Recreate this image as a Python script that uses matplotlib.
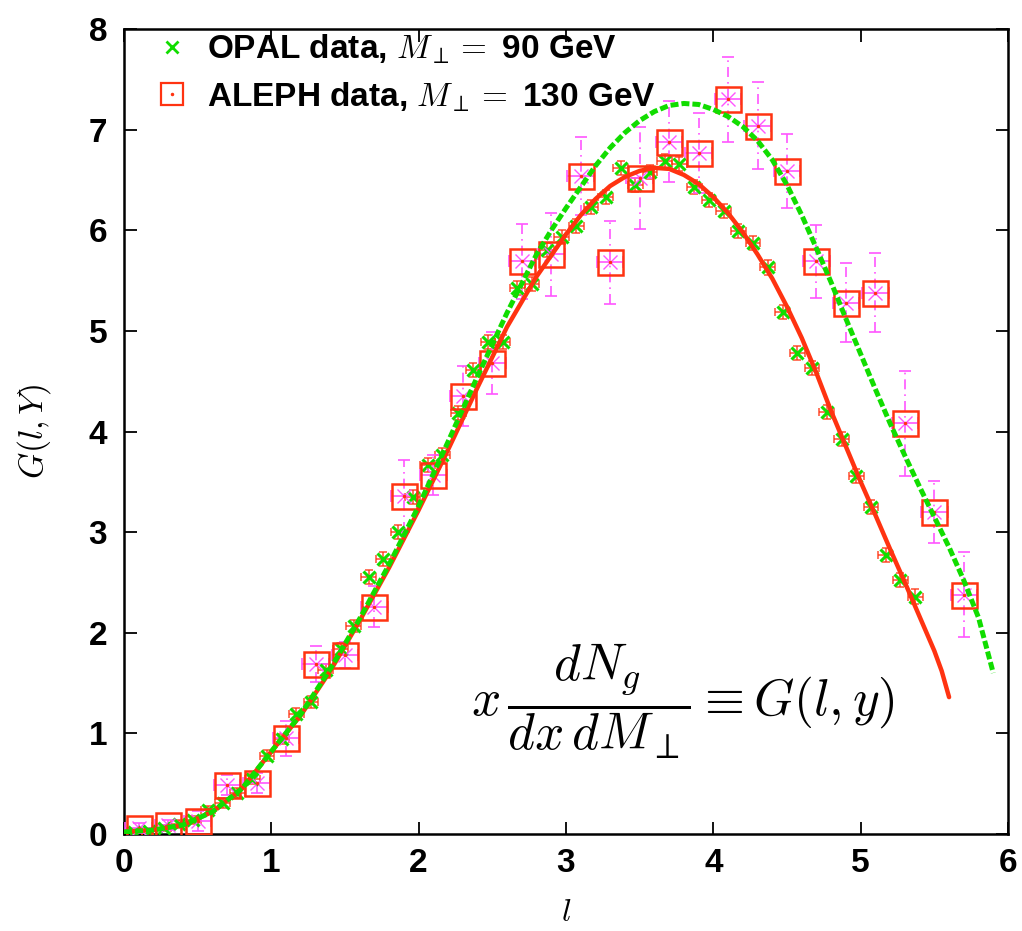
import matplotlib
matplotlib.use('Agg')
import matplotlib.pyplot as plt
from matplotlib.lines import Line2D
from matplotlib.legend_handler import HandlerTuple

plt.rcParams['font.family'] = ['Liberation Sans', 'DejaVu Sans']
plt.rcParams['mathtext.fontset'] = 'cm'

# ---------------- data ----------------
opal_l = [0.07, 0.17, 0.27, 0.37, 0.47, 0.57, 0.67, 0.77, 0.87, 0.97,
          1.07, 1.17, 1.27, 1.37, 1.47, 1.56, 1.66, 1.76, 1.86, 1.96,
          2.06, 2.16, 2.27, 2.37, 2.47, 2.57, 2.67, 2.77, 2.87, 2.97,
          3.07, 3.17, 3.27, 3.37, 3.47, 3.57, 3.67, 3.77, 3.87, 3.97,
          4.07, 4.17, 4.27, 4.37, 4.47, 4.57, 4.67, 4.77, 4.87, 4.97,
          5.07, 5.17, 5.27, 5.37]
opal_G = [0.02, 0.03, 0.06, 0.10, 0.14, 0.24, 0.31, 0.41, 0.55, 0.78,
          0.94, 1.19, 1.31, 1.63, 1.84, 2.07, 2.55, 2.73, 3.00, 3.35,
          3.67, 3.77, 4.18, 4.61, 4.89, 4.89, 5.43, 5.47, 5.80, 5.93,
          6.04, 6.23, 6.33, 6.62, 6.45, 6.58, 6.69, 6.66, 6.43, 6.30,
          6.19, 5.99, 5.87, 5.63, 5.19, 4.78, 4.63, 4.19, 3.93, 3.56,
          3.25, 2.77, 2.52, 2.36]
opal_dl = [0.05] * 54
opal_dG = [0.03, 0.03, 0.03, 0.04, 0.04, 0.04, 0.05, 0.05, 0.05, 0.05,
           0.05, 0.06, 0.06, 0.06, 0.06, 0.06, 0.07, 0.07, 0.07, 0.07,
           0.07, 0.07, 0.07, 0.07, 0.07, 0.07, 0.07, 0.07, 0.07, 0.07,
           0.07, 0.07, 0.07, 0.07, 0.07, 0.07, 0.07, 0.07, 0.07, 0.07,
           0.07, 0.07, 0.07, 0.07, 0.07, 0.07, 0.07, 0.07, 0.07, 0.07,
           0.07, 0.07, 0.07, 0.07]

aleph_l = [0.1, 0.3, 0.5, 0.7, 0.9, 1.1, 1.3, 1.5, 1.7, 1.9,
           2.1, 2.3, 2.5, 2.7, 2.9, 3.1, 3.3, 3.5, 3.7, 3.9,
           4.1, 4.3, 4.5, 4.7, 4.9, 5.1, 5.3, 5.5, 5.7]
aleph_G = [0.06, 0.09, 0.13, 0.49, 0.51, 0.95, 1.69, 1.78, 2.26, 3.36,
           3.57, 4.35, 4.68, 5.69, 5.76, 6.54, 5.68, 6.52, 6.88, 6.77,
           7.30, 7.04, 6.59, 5.69, 5.28, 5.38, 4.08, 3.20, 2.38]
aleph_dl = [0.09] * 29
aleph_dG = [0.05, 0.05, 0.10, 0.10, 0.10, 0.17, 0.18, 0.13, 0.20, 0.36,
            0.20, 0.30, 0.31, 0.37, 0.41, 0.39, 0.41, 0.51, 0.40, 0.40,
            0.42, 0.43, 0.37, 0.36, 0.39, 0.39, 0.52, 0.31, 0.42]

# theory curves
curve90_l = [0.0, 0.2, 0.4, 0.6, 0.8, 1.0, 1.2, 1.4, 1.6, 1.8, 2.0, 2.2,
             2.4, 2.6, 2.8, 3.0, 3.1, 3.2, 3.3, 3.4, 3.5, 3.6, 3.7, 3.8,
             3.9, 4.0, 4.1, 4.2, 4.3, 4.4, 4.5, 4.6, 4.7, 4.8, 4.9, 5.0,
             5.1, 5.2, 5.3, 5.4, 5.5, 5.55, 5.6]
curve90_G = [0.02, 0.04, 0.09, 0.22, 0.45, 0.82, 1.18, 1.62, 2.12, 2.65,
             3.22, 3.82, 4.44, 5.04, 5.54, 5.96, 6.15, 6.31, 6.44, 6.53,
             6.59, 6.62, 6.61, 6.55, 6.46, 6.33, 6.17, 5.98, 5.76, 5.52,
             5.24, 4.93, 4.58, 4.20, 3.85, 3.50, 3.17, 2.83, 2.50, 2.16,
             1.82, 1.62, 1.36]
curve130_l = [0.0, 0.2, 0.4, 0.6, 0.8, 1.0, 1.2, 1.4, 1.6, 1.8, 2.0, 2.2,
              2.4, 2.6, 2.8, 2.9, 3.0, 3.1, 3.2, 3.3, 3.4, 3.5, 3.6, 3.7,
              3.8, 3.9, 4.0, 4.1, 4.2, 4.3, 4.4, 4.5, 4.6, 4.7, 4.8, 4.9,
              5.0, 5.1, 5.2, 5.3, 5.4, 5.5, 5.6, 5.7, 5.8, 5.9]
curve130_G = [0.02, 0.04, 0.09, 0.22, 0.45, 0.82, 1.19, 1.64, 2.14, 2.68,
              3.26, 3.90, 4.55, 5.18, 5.76, 6.00, 6.22, 6.43, 6.64, 6.82,
              6.97, 7.09, 7.18, 7.24, 7.26, 7.25, 7.20, 7.13, 7.03, 6.89,
              6.70, 6.45, 6.15, 5.82, 5.48, 5.12, 4.77, 4.42, 4.08, 3.76,
              3.45, 3.15, 2.85, 2.52, 2.15, 1.60]

RED = '#ff3311'
GREEN = '#11dd00'
MAG = '#ff55ff'

# ---------------- figure ----------------
fig = plt.figure(figsize=(10.22, 9.31), dpi=100)
ax = fig.add_axes([124 / 1022, 1 - 834 / 931, 884 / 1022, 805 / 931])

# OPAL data: red error bars, green crosses
ax.errorbar(opal_l, opal_G, xerr=opal_dl, yerr=opal_dG, fmt='none',
            ecolor=RED, elinewidth=1.2, capsize=3, capthick=1.2, alpha=0.8,
            zorder=3)
ax.plot(opal_l, opal_G, linestyle='none', marker='x', color=GREEN,
        markersize=8, markeredgewidth=2.2, zorder=4)

# ALEPH data: magenta error bars and crosses, red open squares with dot
eb = ax.errorbar(aleph_l, aleph_G, xerr=aleph_dl, yerr=aleph_dG, fmt='none',
                 ecolor=MAG, elinewidth=1.2, capsize=4, capthick=1.2,
                 zorder=3)
eb[2][1].set_linestyle((0, (6, 3, 1, 3)))
ax.plot(aleph_l, aleph_G, linestyle='none', marker='x', color=MAG,
        markersize=10, markeredgewidth=1.0, zorder=4)
ax.plot(aleph_l, aleph_G, linestyle='none', marker='s', markersize=18,
        markerfacecolor='none', markeredgecolor=RED, markeredgewidth=1.8,
        zorder=5)
ax.plot(aleph_l, aleph_G, linestyle='none', marker='.', markersize=3,
        color=RED, zorder=5)

# theory curves
ax.plot(curve90_l, curve90_G, color=RED, linewidth=3.2, zorder=6,
        solid_capstyle='round', solid_joinstyle='round')
ax.plot(curve130_l, curve130_G, color=GREEN, linewidth=3.6, zorder=7,
        dashes=(1.6, 0.6))

ax.set_xlim(0, 6)
ax.set_ylim(0, 8)
ax.set_xticks([0, 1, 2, 3, 4, 5, 6])
ax.set_yticks([0, 1, 2, 3, 4, 5, 6, 7, 8])
ax.tick_params(direction='in', length=9, width=1.3, top=True, right=True,
               labelsize=24)
ax.tick_params(axis='x', pad=10)
ax.tick_params(axis='y', pad=12)
for lab in ax.get_xticklabels() + ax.get_yticklabels():
    lab.set_fontweight('bold')
for sp in ax.spines.values():
    sp.set_linewidth(1.8)

ax.set_ylabel('$G(l,Y)$', fontsize=24)
ax.yaxis.set_label_coords(-0.080, 0.50)
ax.set_xlabel('$l$', fontsize=23, va='top')
ax.xaxis.set_label_coords(0.5, -0.080)

ax.text(3.79, 1.32, r'$x\,\dfrac{dN_g}{dx\,dM_\perp}\equiv G(l,y)$',
        fontsize=37, ha='center', va='center', zorder=8)

h1 = Line2D([], [], linestyle='none', marker='x', color=GREEN,
            markersize=8, markeredgewidth=2)
h2a = Line2D([], [], linestyle='none', marker='s', markersize=16,
             markerfacecolor='none', markeredgecolor=RED, markeredgewidth=1.6)
h2b = Line2D([], [], linestyle='none', marker='.', markersize=3, color=RED)
leg = ax.legend([h1, (h2a, h2b)],
                [r'OPAL data, $M_\perp=$ 90 GeV',
                 r'ALEPH data, $M_\perp=$ 130 GeV'],
                handler_map={tuple: HandlerTuple(ndivide=1)},
                loc='upper left', bbox_to_anchor=(0.035, 0.996),
                frameon=False, prop={'weight': 'bold', 'size': 24},
                handlelength=1.05, handletextpad=0.5, labelspacing=0.42,
                borderaxespad=0.0, borderpad=0.0)

fig.savefig('out.png', dpi=100)
